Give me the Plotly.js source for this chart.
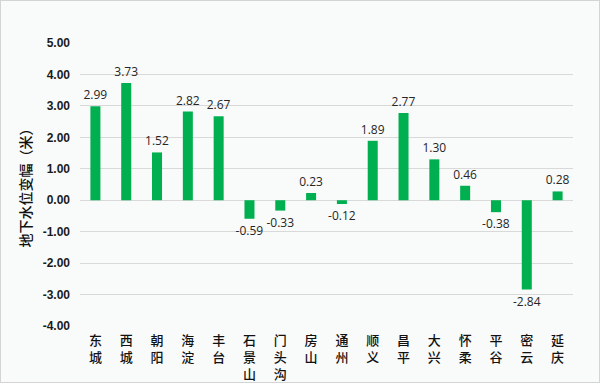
<!DOCTYPE html>
<html><head><meta charset="utf-8">
<script src="https://cdn.plot.ly/plotly-3.0.1.min.js"></script>
<style>
html,body{margin:0;padding:0;background:#f9fbfa;}
#wrap{position:relative;width:600px;height:383px;}
#chart{width:600px;height:383px;}
#frame{position:absolute;left:0;top:0;width:600px;height:383px;box-sizing:border-box;border:1px solid #d4d4d4;pointer-events:none;}
</style></head>
<body>
<div id="wrap"><div id="chart"></div><div id="frame"></div></div>
<script>
const districts = ["东城","西城","朝阳","海淀","丰台","石景山","门头沟","房山","通州","顺义","昌平","大兴","怀柔","平谷","密云","延庆"];
const changes = [2.99,3.73,1.52,2.82,2.67,-0.59,-0.33,0.23,-0.12,1.89,2.77,1.30,0.46,-0.38,-2.84,0.28];
const yTicks = [5,4,3,2,1,0,-1,-2,-3,-4];
const yTickText = yTicks.map(v => v.toFixed(2));
const tickLabels = districts.map(d => d.split("").join("<br>"));

const cjk = '"Noto Sans CJK SC", sans-serif';
const num = '"Liberation Sans", Arial, sans-serif';
const lbl = '"Open Sans", "Noto Sans", sans-serif';

Plotly.newPlot('chart', [{
  type:'bar',
  x: districts,
  y: changes,
  marker:{color:'#00b050'},
  text: changes.map(v => v.toFixed(2)),
  textposition:'outside',
  constraintext:'none',
  textfont:{family:lbl, size:12, color:'#262626'},
  cliponaxis:false,
  hoverinfo:'none'
}], {
  width:600, height:383,
  paper_bgcolor:'#f9fbfa', plot_bgcolor:'#f9fbfa',
  margin:{l:80, r:27, t:43, b:57, pad:0},
  bargap:0.675,
  showlegend:false,
  xaxis:{
    type:'category',
    tickvals: districts,
    ticktext: tickLabels,
    tickfont:{family:cjk, size:13, color:'#111111', weight:500},
    showgrid:false, zeroline:false, showline:false,
    ticks:'', ticklabelstandoff:5,
    fixedrange:true
  },
  yaxis:{
    range:[-4,5],
    tickvals: yTicks,
    ticktext: yTickText,
    tickfont:{family:num, size:12, color:'#1a1a1a', weight:'bold'},
    showgrid:true, gridcolor:'#d9d9d9', gridwidth:1,
    zeroline:true, zerolinecolor:'#d9d9d9', zerolinewidth:1,
    showline:false, ticks:'', ticklabelstandoff:9,
    title:{text:'地下水位变幅（米）', font:{family:cjk, size:14, color:'#111111', weight:500}, standoff:7},
    automargin:false, fixedrange:true
  }
}, {staticPlot:true});
</script>
</body></html>
